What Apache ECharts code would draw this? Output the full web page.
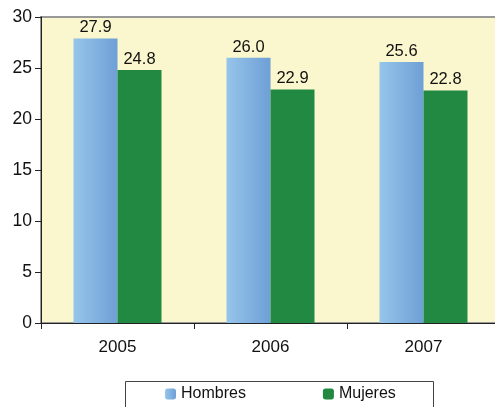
<!DOCTYPE html>
<html><head><meta charset="utf-8">
<script src="https://cdn.jsdelivr.net/npm/echarts@6/dist/echarts.min.js"></script>
<style>html,body{margin:0;padding:0;background:#fff}#c{width:495px;height:407px}</style>
</head><body><div id="c"></div>
<script>
const categories = ['2005', '2006', '2007'];
const hombres = [27.9, 26.0, 25.6];
const mujeres = [24.8, 22.9, 22.8];
const yTicks = [0, 5, 10, 15, 20, 25, 30];

const chart = echarts.init(document.getElementById('c'));
const font = 'Liberation Sans, Arial, sans-serif';
const lbl = {show: true, position: 'top', distance: 2, color: '#111', fontSize: 16.5, fontFamily: font,
  formatter: p => p.value.toFixed(1)};
chart.setOption({
  animation: false,
  grid: {left: 41, top: 17, width: 459, height: 306, show: true, backgroundColor: '#FAF6CD',
    borderColor: '#999', borderWidth: 2, outerBoundsMode: 'none', containLabel: false},
  xAxis: {type: 'category', data: categories,
    axisLine: {lineStyle: {color: '#222', width: 1}},
    axisTick: {show: true, length: 6, lineStyle: {color: '#222'}},
    axisLabel: {color: '#111', fontSize: 17, fontFamily: font, margin: 16}},
  yAxis: {type: 'value', min: yTicks[0], max: yTicks[yTicks.length-1], interval: 5,
    axisLine: {show: true, lineStyle: {color: '#222', width: 1}},
    axisTick: {show: true, length: 6, lineStyle: {color: '#222'}},
    splitLine: {show: false},
    axisLabel: {color: '#111', fontSize: 17.5, fontFamily: font, margin: 9}},
  legend: {left: 160, top: 381, itemWidth: 11, itemHeight: 11, itemGap: 77,
    textStyle: {color: '#111', fontSize: 16, fontFamily: font}, data: ['Hombres', 'Mujeres']},
  graphic: [{type: 'rect', shape: {x: 125.5, y: 381.5, width: 308, height: 40},
    style: {fill: 'none', stroke: '#444', lineWidth: 1}, z: 0}],
  series: [
    {name: 'Hombres', type: 'bar', data: hombres, barWidth: 44, barGap: '0%', label: lbl,
      itemStyle: {color: new echarts.graphic.LinearGradient(0, 0, 1, 0,
        [{offset: 0, color: '#96C5EA'}, {offset: 1, color: '#6E9FD6'}])}},
    {name: 'Mujeres', type: 'bar', data: mujeres, barWidth: 44, barGap: '0%', label: lbl,
      itemStyle: {color: '#218941'}}
  ]
});
</script></body></html>
